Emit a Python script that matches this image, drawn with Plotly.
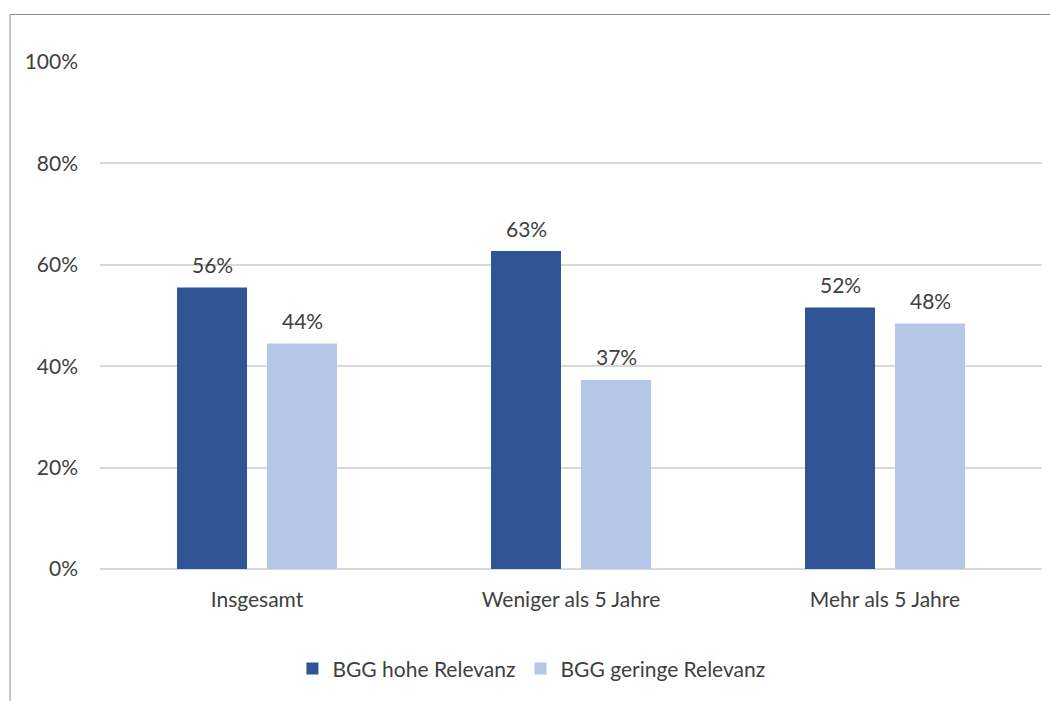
import plotly.graph_objects as go

categories = ["Insgesamt", "Weniger als 5 Jahre", "Mehr als 5 Jahre"]
series_names = ["BGG hohe Relevanz", "BGG geringe Relevanz"]
hohe = [0.555, 0.627, 0.516]
geringe = [0.445, 0.373, 0.484]
hohe_labels = ["56%", "63%", "52%"]
geringe_labels = ["44%", "37%", "48%"]
tick_vals = [0, 0.2, 0.4, 0.6, 0.8, 1.0]
tick_text = ["0%", "20%", "40%", "60%", "80%", "100%"]

colors = ["#2F5597", "#B4C7E7"]
text_color = "#404040"
font_family = "Lato, 'Open Sans', sans-serif"
fs = 21

fig = go.Figure()
for name, vals, col in zip(series_names, [hohe, geringe], colors):
    fig.add_trace(go.Bar(x=categories, y=vals, name=name, marker=dict(color=col, line=dict(width=0))))

# data labels above bars
offsets = [-0.1433, 0.1433]
for off, vals, labs in zip(offsets, [hohe, geringe], [hohe_labels, geringe_labels]):
    for i, (v, t) in enumerate(zip(vals, labs)):
        fig.add_annotation(x=i + off, y=v, text=t, showarrow=False, yshift=23,
                           font=dict(size=fs, color=text_color, family=font_family))

# chart frame (left & top visible)
fig.add_shape(type="rect", xref="paper", yref="paper", x0=-0.0955, x1=1.05, y0=-0.3, y1=1.0937,
              line=dict(color="#8C8C8C", width=1), layer="below")

fig.update_layout(
    width=1050, height=701,
    margin=dict(l=100, r=8, t=62, b=132),
    plot_bgcolor="white", paper_bgcolor="white",
    barmode="group", bargap=0.427, bargroupgap=0.222,
    font=dict(family=font_family, size=fs, color=text_color),
    showlegend=True,
    legend=dict(orientation="h", x=0.458, xanchor="center", y=-0.197, yanchor="middle",
                font=dict(size=fs, color=text_color), traceorder="normal"),
    xaxis=dict(showgrid=False, showline=False, ticks="", ticklabelstandoff=16,
               tickfont=dict(size=fs, color=text_color)),
    yaxis=dict(range=[0, 1.0], tickvals=tick_vals, ticktext=tick_text, showgrid=True,
               gridcolor="#D9D9D9", gridwidth=2, zeroline=True, zerolinecolor="#D9D9D9",
               zerolinewidth=2, showline=False, ticks="", ticklabelstandoff=21,
               tickfont=dict(size=fs, color=text_color)),
)

fig.write_html("out.html", config={"displayModeBar": False},
               post_script="document.body.style.margin='0';")
